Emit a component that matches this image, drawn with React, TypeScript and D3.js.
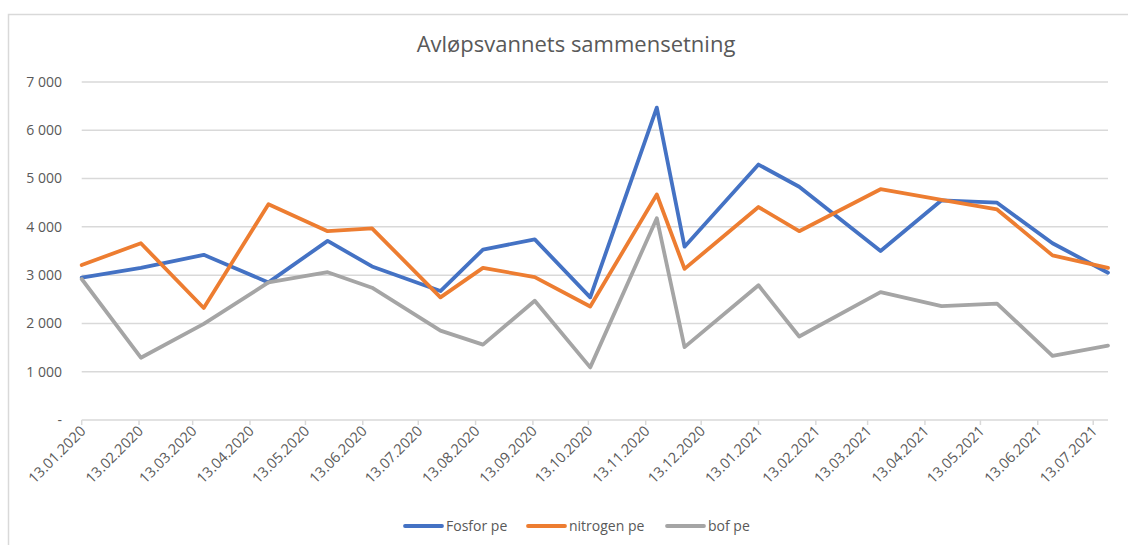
import * as d3 from "d3";

const title = "Avløpsvannets sammensetning";

// sample dates (dd.mm.yyyy)
const sampleDates = [
  "13.01.2020", "14.02.2020", "19.03.2020", "23.04.2020", "25.05.2020",
  "18.06.2020", "25.07.2020", "17.08.2020", "14.09.2020", "14.10.2020",
  "19.11.2020", "04.12.2020", "13.01.2021", "04.02.2021", "20.03.2021",
  "22.04.2021", "22.05.2021", "21.06.2021", "21.07.2021",
];

const fosfor = [2950, 3150, 3420, 2850, 3710, 3180, 2670, 3530, 3740, 2540, 6470, 3590, 5290, 4830, 3500, 4550, 4500, 3660, 3050];
const nitrogen = [3210, 3660, 2320, 4470, 3910, 3970, 2540, 3150, 2960, 2350, 4670, 3130, 4410, 3910, 4780, 4560, 4360, 3410, 3150];
const bof = [2920, 1290, 1990, 2850, 3060, 2740, 1850, 1560, 2470, 1090, 4180, 1510, 2790, 1730, 2650, 2360, 2410, 1330, 1540];

const xTickLabels = [
  "13.01.2020", "13.02.2020", "13.03.2020", "13.04.2020", "13.05.2020", "13.06.2020",
  "13.07.2020", "13.08.2020", "13.09.2020", "13.10.2020", "13.11.2020", "13.12.2020",
  "13.01.2021", "13.02.2021", "13.03.2021", "13.04.2021", "13.05.2021", "13.06.2021",
  "13.07.2021",
];
const yTicks = [0, 1000, 2000, 3000, 4000, 5000, 6000, 7000];

const series = [
  { name: "Fosfor pe", values: fosfor, color: "#4472C4" },
  { name: "nitrogen pe", values: nitrogen, color: "#ED7D31" },
  { name: "bof pe", values: bof, color: "#A5A5A5" },
];

const W = 1128;
const H = 545;
const font = "'Open Sans', sans-serif";
const textColor = "#595959";

export default function App() {
  const parse = d3.timeParse("%d.%m.%Y");
  const dates = sampleDates.map((s) => parse(s) as Date);

  const x = d3
    .scaleTime()
    .domain(d3.extent(dates) as [Date, Date])
    .range([81.7, 1108]);
  const y = d3.scaleLinear().domain([0, 7000]).range([420, 82]);

  const fmt = (v: number) => (v === 0 ? "-" : d3.format(",")(v).replace(/,/g, " "));

  const line = d3
    .line<number>()
    .x((_, i) => x(dates[i]))
    .y((v) => y(v));

  const legendX = [405, 528, 667];

  return (
    <div style={{ position: "absolute", left: 0, top: 0 }}>
      <svg width={W} height={H} style={{ display: "block", background: "#fff" }}>
        <path d={`M8.5,${H} V14.5 H${W}`} fill="none" stroke="#d9d9d9" strokeWidth={1.5} />

        <text x={576} y={52} textAnchor="middle" fontFamily={font} fontSize={22} fill={textColor}>
          {title}
        </text>

        {yTicks.map((t) => (
          <g key={t}>
            {t > 0 && (
              <line x1={81.7} x2={1108} y1={y(t)} y2={y(t)} stroke="#d9d9d9" strokeWidth={1.5} />
            )}
            <text
              x={62}
              y={y(t)}
              dy="0.35em"
              textAnchor="end"
              fontFamily={font}
              fontSize={14}
              fill={textColor}
            >
              {fmt(t)}
            </text>
          </g>
        ))}

        <line x1={81.7} x2={1108} y1={y(0)} y2={y(0)} stroke="#d9d9d9" strokeWidth={1.5} />
        {xTickLabels.map((s) => {
          const xp = x(parse(s) as Date);
          return (
            <g key={s}>
              <line x1={xp} x2={xp} y1={y(0)} y2={y(0) + 5} stroke="#d9d9d9" strokeWidth={1.5} />
              <text
                transform={`translate(${xp + 5},${y(0) + 12}) rotate(-45)`}
                textAnchor="end"
                fontFamily={font}
                fontSize={14.5}
                fill={textColor}
              >
                {s}
              </text>
            </g>
          );
        })}

        {series.map((s) => (
          <path
            key={s.name}
            d={line(s.values) ?? ""}
            fill="none"
            stroke={s.color}
            strokeWidth={3.8}
            strokeLinejoin="round"
            strokeLinecap="round"
          />
        ))}

        {series.map((s, i) => (
          <g key={s.name} transform={`translate(${legendX[i]},526)`}>
            <line x1={0} x2={37} y1={0} y2={0} stroke={s.color} strokeWidth={3.8} strokeLinecap="round" />
            <text x={41} y={0} dy="0.35em" fontFamily={font} fontSize={14} fill={textColor}>
              {s.name}
            </text>
          </g>
        ))}
      </svg>
    </div>
  );
}
